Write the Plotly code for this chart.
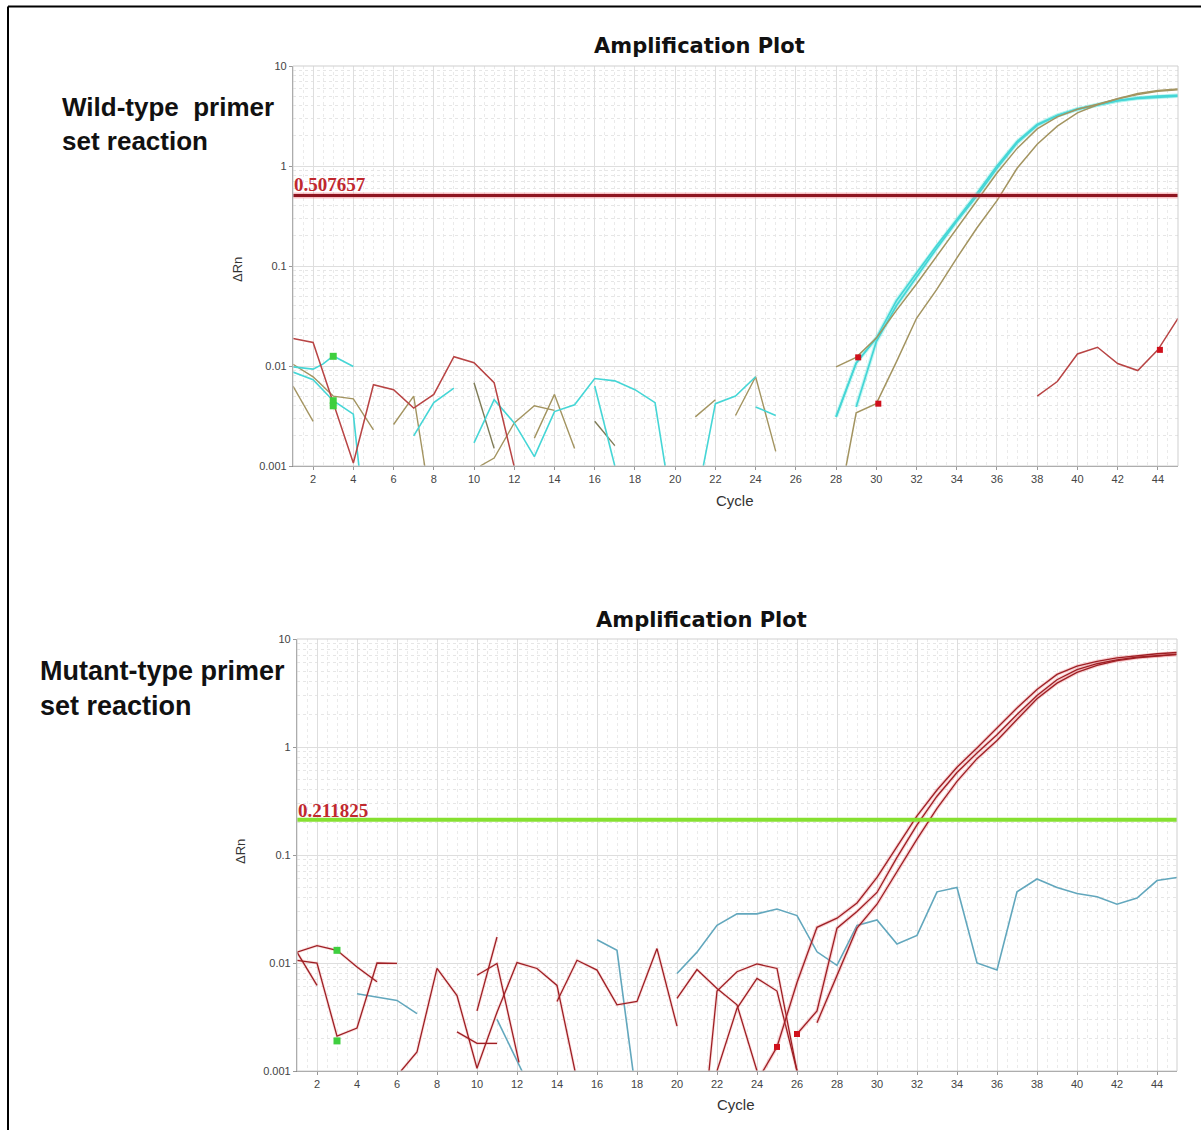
import plotly.graph_objects as go

W, H = 1201, 1130

# ---------------- data: top panel (wild-type primer set) ----------------
top_threshold = 0.507657
top_cyanA_cyc = [28, 29, 30, 31, 32, 33, 34, 35, 36, 37, 38, 39, 40, 41, 42, 43, 44, 45]
top_cyanA_val = [0.0031, 0.0107, 0.019, 0.045, 0.085, 0.16, 0.29, 0.53, 1.0, 1.75, 2.6, 3.2, 3.7, 4.1, 4.5, 4.8, 5.0, 5.1]
top_cyanB_cyc = [29, 30, 31, 32, 33, 34, 35, 36, 37, 38, 39, 40, 41, 42, 43, 44, 45]
top_cyanB_val = [0.0039, 0.0175, 0.040, 0.078, 0.15, 0.28, 0.50, 0.95, 1.7, 2.55, 3.2, 3.7, 4.1, 4.5, 4.75, 4.9, 5.0]
top_oliveA_cyc = [28, 29, 30, 31, 32, 33, 34, 35, 36, 37, 38, 39, 40, 41, 42, 43, 44, 45]
top_oliveA_val = [0.0098, 0.0122, 0.019, 0.036, 0.066, 0.125, 0.24, 0.45, 0.85, 1.5, 2.35, 3.1, 3.7, 4.15, 4.7, 5.2, 5.6, 5.8]
top_oliveB_cyc = [28.5, 29, 30, 31, 32, 33, 34, 35, 36, 37, 38, 39, 40, 41, 42, 43, 44, 45]
top_oliveB_val = [0.001, 0.0034, 0.0042, 0.011, 0.030, 0.058, 0.12, 0.24, 0.45, 0.95, 1.65, 2.5, 3.4, 4.1, 4.7, 5.3, 5.7, 5.9]

top_red1_cyc = [1, 2, 3, 4, 5, 6, 7, 8, 9, 10, 11, 12]
top_red1_val = [0.0188, 0.0172, 0.0043, 0.00107, 0.0065, 0.0058, 0.0038, 0.0052, 0.0124, 0.0108, 0.0068, 0.00098]
top_red2_cyc = [38, 39, 40, 41, 42, 43, 44, 45]
top_red2_val = [0.005, 0.007, 0.0132, 0.0154, 0.0106, 0.009, 0.0145, 0.030]

top_cyan1_cyc = [1, 2, 2.5, 3, 4]
top_cyan1_val = [0.0098, 0.0093, 0.0105, 0.0126, 0.0099]
top_cyan2_cyc = [1, 2, 3, 4, 4.3]
top_cyan2_val = [0.0087, 0.0073, 0.0045, 0.0033, 0.0009]
top_cyan3_cyc = [7, 8, 9]
top_cyan3_val = [0.0020, 0.0043, 0.0060]
top_cyan4_cyc = [10, 11, 12, 13, 14, 15, 16, 17, 18, 19, 19.5]
top_cyan4_val = [0.0017, 0.0046, 0.0027, 0.00124, 0.0035, 0.0041, 0.0075, 0.0071, 0.0058, 0.0043, 0.001]
top_cyan5_cyc = [16, 17]
top_cyan5_val = [0.0063, 0.001]
top_cyan6_cyc = [21.4, 22, 23, 24]
top_cyan6_val = [0.001, 0.0042, 0.0050, 0.0078]
top_cyan7_cyc = [24, 25]
top_cyan7_val = [0.0039, 0.0032]
top_cyan8_cyc = [28, 29, 30]
top_cyan8_val = [0.0031, 0.0107, 0.019]

top_olive1_cyc = [1, 2]
top_olive1_val = [0.0063, 0.0028]
top_olive2_cyc = [1, 2, 3, 4, 5]
top_olive2_val = [0.0104, 0.0078, 0.0050, 0.0047, 0.0023]
top_olive3_cyc = [6, 7, 7.55]
top_olive3_val = [0.0026, 0.0050, 0.001]
top_olive4_cyc = [10, 11]
top_olive4_val = [0.0068, 0.0015]
top_olive5_cyc = [10.3, 11, 12, 13, 14]
top_olive5_val = [0.001, 0.0012, 0.0027, 0.0040, 0.0036]
top_olive6_cyc = [13, 14, 15]
top_olive6_val = [0.0019, 0.0052, 0.0015]
top_olive7_cyc = [16, 17]
top_olive7_val = [0.0028, 0.0016]
top_olive8_cyc = [21, 22]
top_olive8_val = [0.0031, 0.0046]
top_olive9_cyc = [23, 24, 25]
top_olive9_val = [0.0032, 0.0078, 0.0014]

top_green_mark_cyc = [3, 3, 3]
top_green_mark_val = [0.0125, 0.0045, 0.0040]
top_red_mark_cyc = [29.1, 30.1, 44.1]
top_red_mark_val = [0.0122, 0.0042, 0.0145]

# ---------------- data: bottom panel (mutant-type primer set) ----------------
bot_threshold = 0.211825
bot_R1_cyc = [24, 25, 26, 27, 28, 29, 30, 31, 32, 33, 34, 35, 36, 37, 38, 39, 40, 41, 42, 43, 44, 45]
bot_R1_val = [0.0008, 0.00167, 0.0066, 0.0214, 0.026, 0.036, 0.062, 0.12, 0.23, 0.40, 0.65, 0.98, 1.5, 2.3, 3.4, 4.7, 5.6, 6.2, 6.7, 7.0, 7.3, 7.5]
bot_R2_cyc = [26, 27, 28, 29, 30, 31, 32, 33, 34, 35, 36, 37, 38, 39, 40, 41, 42, 43, 44, 45]
bot_R2_val = [0.0022, 0.0036, 0.021, 0.030, 0.045, 0.095, 0.19, 0.35, 0.58, 0.88, 1.3, 2.0, 3.0, 4.2, 5.2, 5.9, 6.4, 6.8, 7.0, 7.2]
bot_R3_cyc = [27, 28, 29, 30, 31, 32, 33, 34, 35, 36, 37, 38, 39, 40, 41, 42, 43, 44, 45]
bot_R3_val = [0.0028, 0.0076, 0.021, 0.035, 0.07, 0.14, 0.27, 0.48, 0.78, 1.15, 1.8, 2.8, 3.9, 4.9, 5.7, 6.3, 6.7, 7.0, 7.2]

bot_N1_cyc = [1, 2, 3, 4, 5]
bot_N1_val = [0.0126, 0.0145, 0.0131, 0.0092, 0.0067]
bot_N2_cyc = [1, 2, 3, 4, 5, 6]
bot_N2_val = [0.0106, 0.010, 0.0021, 0.0025, 0.010, 0.0099]
bot_N3_cyc = [1, 2]
bot_N3_val = [0.0126, 0.0062]
bot_N4_cyc = [6.2, 7, 8, 9, 10, 11, 12, 13, 14, 14.9]
bot_N4_val = [0.001, 0.0015, 0.0089, 0.0050, 0.00106, 0.0035, 0.0101, 0.0089, 0.0062, 0.001]
bot_N5_cyc = [10, 11]
bot_N5_val = [0.0036, 0.0174]
bot_N6_cyc = [10, 11, 12.1]
bot_N6_val = [0.0077, 0.0099, 0.0012]
bot_N7_cyc = [9, 10, 11]
bot_N7_val = [0.0023, 0.0018, 0.0018]
bot_N8_cyc = [14, 15, 16, 17, 18, 19, 20]
bot_N8_val = [0.0044, 0.0106, 0.0086, 0.0041, 0.0044, 0.0136, 0.0026]
bot_N9_cyc = [20, 21, 22, 23, 24]
bot_N9_val = [0.0047, 0.0087, 0.0058, 0.0041, 0.001]
bot_N10_cyc = [21.6, 22, 23, 24, 25, 26]
bot_N10_val = [0.001, 0.0055, 0.0083, 0.0098, 0.0089, 0.001]
bot_N11_cyc = [22, 23, 24, 25, 26]
bot_N11_val = [0.001, 0.0038, 0.0072, 0.0055, 0.001]

bot_B1_cyc = [4, 5, 6, 7]
bot_B1_val = [0.0052, 0.0048, 0.0045, 0.0034]
bot_B2_cyc = [11, 12.25]
bot_B2_val = [0.0030, 0.001]
bot_B3_cyc = [16, 17, 17.8]
bot_B3_val = [0.0164, 0.0131, 0.001]
bot_B4_cyc = [20, 21, 22, 23, 24, 25, 26, 27, 28, 29, 30, 31, 32, 33, 34, 35, 36, 37, 38, 39, 40, 41, 42, 43, 44, 45]
bot_B4_val = [0.0080, 0.0126, 0.0223, 0.0285, 0.0285, 0.0316, 0.0275, 0.0127, 0.0095, 0.0223, 0.025, 0.015, 0.018, 0.0456, 0.050, 0.010, 0.0086, 0.0456, 0.060, 0.050, 0.044, 0.041, 0.035, 0.040, 0.058, 0.062]

bot_green_mark_cyc = [3, 3]
bot_green_mark_val = [0.0131, 0.0019]
bot_red_mark_cyc = [25, 26]
bot_red_mark_val = [0.00167, 0.0022]

x_ticks = list(range(2, 46, 2))
y_ticks = [0.001, 0.01, 0.1, 1, 10]
y_tick_text = ["0.001", "0.01", "0.1", "1", "10"]

# ---------------- colours ----------------
C_RED = "#b84444"
C_CYAN = "#45d6d6"
C_OLIVE = "#a39460"
C_DOLIVE = "#7d7a55"
C_DRED = "#9e1f24"
C_BLUE = "#62a7bd"

fig = go.Figure()


def add_segments(segs, color, width, xa, ya, opacity=1.0):
    xs, ys = [], []
    for cx, cy in segs:
        xs += list(cx) + [None]
        ys += list(cy) + [None]
    fig.add_trace(go.Scatter(x=xs, y=ys, mode="lines", xaxis=xa, yaxis=ya,
                             line=dict(color=color, width=width), opacity=opacity,
                             connectgaps=False, hoverinfo="skip", showlegend=False))


# top panel
add_segments([(top_olive1_cyc, top_olive1_val), (top_olive2_cyc, top_olive2_val),
              (top_olive3_cyc, top_olive3_val), (top_olive5_cyc, top_olive5_val),
              (top_olive6_cyc, top_olive6_val), (top_olive8_cyc, top_olive8_val),
              (top_olive9_cyc, top_olive9_val)], C_OLIVE, 1.4, "x", "y")
add_segments([(top_olive4_cyc, top_olive4_val), (top_olive7_cyc, top_olive7_val)], C_DOLIVE, 1.4, "x", "y")
add_segments([(top_cyan1_cyc, top_cyan1_val), (top_cyan2_cyc, top_cyan2_val),
              (top_cyan3_cyc, top_cyan3_val), (top_cyan4_cyc, top_cyan4_val),
              (top_cyan5_cyc, top_cyan5_val), (top_cyan6_cyc, top_cyan6_val),
              (top_cyan7_cyc, top_cyan7_val), (top_cyan8_cyc, top_cyan8_val)], C_CYAN, 1.6, "x", "y")
add_segments([(top_red1_cyc, top_red1_val), (top_red2_cyc, top_red2_val)], C_RED, 1.5, "x", "y")
add_segments([(top_cyanA_cyc, top_cyanA_val), (top_cyanB_cyc, top_cyanB_val)], "rgba(80,230,220,0.3)", 4, "x", "y")
add_segments([(top_cyanA_cyc, top_cyanA_val), (top_cyanB_cyc, top_cyanB_val)], C_CYAN, 1.7, "x", "y")
add_segments([(top_oliveA_cyc, top_oliveA_val), (top_oliveB_cyc, top_oliveB_val)], C_OLIVE, 1.5, "x", "y")

# top threshold
fig.add_trace(go.Scatter(x=[1, 45], y=[top_threshold, top_threshold], mode="lines", xaxis="x", yaxis="y",
                         line=dict(color="rgba(240,120,130,0.45)", width=6), hoverinfo="skip", showlegend=False))
fig.add_trace(go.Scatter(x=[1, 45], y=[top_threshold, top_threshold], mode="lines", xaxis="x", yaxis="y",
                         line=dict(color="#8e1420", width=3), hoverinfo="skip", showlegend=False))

fig.add_trace(go.Scatter(x=top_green_mark_cyc, y=top_green_mark_val, mode="markers", xaxis="x", yaxis="y",
                         marker=dict(symbol="square", size=7, color="#3fcf3f", line=dict(width=0)),
                         hoverinfo="skip", showlegend=False))
fig.add_trace(go.Scatter(x=top_red_mark_cyc, y=top_red_mark_val, mode="markers", xaxis="x", yaxis="y",
                         marker=dict(symbol="square", size=6, color="#d0101c", line=dict(width=0)),
                         hoverinfo="skip", showlegend=False))

# bottom panel
add_segments([(bot_B1_cyc, bot_B1_val), (bot_B2_cyc, bot_B2_val), (bot_B3_cyc, bot_B3_val),
              (bot_B4_cyc, bot_B4_val)], C_BLUE, 1.6, "x2", "y2")
noise = [(bot_N1_cyc, bot_N1_val), (bot_N2_cyc, bot_N2_val), (bot_N3_cyc, bot_N3_val),
         (bot_N4_cyc, bot_N4_val), (bot_N5_cyc, bot_N5_val), (bot_N6_cyc, bot_N6_val),
         (bot_N7_cyc, bot_N7_val), (bot_N8_cyc, bot_N8_val), (bot_N9_cyc, bot_N9_val),
         (bot_N10_cyc, bot_N10_val), (bot_N11_cyc, bot_N11_val)]
add_segments(noise, "rgba(235,120,120,0.22)", 3, "x2", "y2")
add_segments(noise, C_DRED, 1.3, "x2", "y2")
amp = [(bot_R1_cyc, bot_R1_val), (bot_R2_cyc, bot_R2_val), (bot_R3_cyc, bot_R3_val)]
add_segments(amp, "rgba(235,110,115,0.3)", 3.5, "x2", "y2")
add_segments(amp, C_DRED, 1.3, "x2", "y2")

fig.add_trace(go.Scatter(x=[1, 45], y=[bot_threshold, bot_threshold], mode="lines", xaxis="x2", yaxis="y2",
                         line=dict(color="#86e030", width=4), hoverinfo="skip", showlegend=False))

fig.add_trace(go.Scatter(x=bot_green_mark_cyc, y=bot_green_mark_val, mode="markers", xaxis="x2", yaxis="y2",
                         marker=dict(symbol="square", size=7, color="#3fcf3f", line=dict(width=0)),
                         hoverinfo="skip", showlegend=False))
fig.add_trace(go.Scatter(x=bot_red_mark_cyc, y=bot_red_mark_val, mode="markers", xaxis="x2", yaxis="y2",
                         marker=dict(symbol="square", size=6, color="#d0101c", line=dict(width=0)),
                         hoverinfo="skip", showlegend=False))


def px(v):
    return v / W


def py(v):
    return 1 - v / H


tick_font = dict(family="Liberation Sans, Arial, sans-serif", size=11, color="#444")
xax = dict(range=[1, 45], tickvals=x_ticks, ticks="outside", ticklen=3, tickcolor="#999",
           showline=True, linecolor="#8a8a8a", linewidth=1.2,
           showgrid=True, gridcolor="#dedede", gridwidth=1,
           minor=dict(dtick=0.5, showgrid=True, gridcolor="#eaeaea", griddash="dot"),
           zeroline=False, tickfont=tick_font, automargin=False, fixedrange=True)
yax = dict(type="log", range=[-3, 1], tickvals=y_ticks, ticktext=y_tick_text, ticks="outside", ticklen=3,
           tickcolor="#999", showline=True, linecolor="#8a8a8a", linewidth=1.2,
           showgrid=True, gridcolor="#dedede", gridwidth=1,
           minor=dict(dtick="D1", showgrid=True, gridcolor="#e6e6e6", griddash="dot"),
           zeroline=False, tickfont=tick_font, automargin=False, fixedrange=True)

fig.update_layout(
    width=W, height=H, margin=dict(l=0, r=0, t=0, b=0),
    paper_bgcolor="white", plot_bgcolor="white", showlegend=False,
    xaxis=dict(xax, domain=[px(293), px(1178)], anchor="y"),
    yaxis=dict(yax, domain=[py(466), py(66)], anchor="x"),
    xaxis2=dict(xax, domain=[px(297), px(1177)], anchor="y2"),
    yaxis2=dict(yax, domain=[py(1071), py(639)], anchor="x2"),
)

shapes = [
    dict(type="rect", xref="paper", yref="paper", x0=px(293), x1=px(1178), y0=py(466), y1=py(66),
         line=dict(color="#cfcfcf", width=1)),
    dict(type="rect", xref="paper", yref="paper", x0=px(297), x1=px(1177), y0=py(1071), y1=py(639),
         line=dict(color="#cfcfcf", width=1)),
    dict(type="line", xref="paper", yref="paper", x0=px(8), x1=px(1201), y0=py(6.5), y1=py(6.5),
         line=dict(color="black", width=2)),
    dict(type="line", xref="paper", yref="paper", x0=px(8), x1=px(8), y0=py(6.5), y1=py(1130),
         line=dict(color="black", width=2)),
]
fig.update_layout(shapes=shapes)

title_font = dict(family="DejaVu Sans, Verdana, sans-serif", size=21, color="#111")
side_font = dict(family="Liberation Sans, Arial, sans-serif", size=26, color="#111")
side_font2 = dict(family="Liberation Sans, Arial, sans-serif", size=27, color="#111")
small_font = dict(family="Liberation Sans, Arial, sans-serif", size=13, color="#333")
cycle_font = dict(family="Liberation Sans, Arial, sans-serif", size=15, color="#333")
thr_font = dict(family="Liberation Serif, Times New Roman, serif", size=19, color="#c0282e")

ann = []


def add_text(text, x, y, font, xanchor="center", yanchor="middle", textangle=0):
    ann.append(dict(text=text, x=px(x), y=py(y), xref="paper", yref="paper", showarrow=False,
                    font=font, xanchor=xanchor, yanchor=yanchor, textangle=textangle, align="left"))


add_text("<b>Amplification Plot</b>", 700, 46, title_font)
add_text("<b>Amplification Plot</b>", 701, 620, title_font)
add_text("<b>Wild-type  primer<br>set reaction</b>", 60, 124, side_font, xanchor="left")
add_text("<b>Mutant-type primer<br>set reaction</b>", 38, 688, side_font2, xanchor="left")
add_text("ΔRn", 237, 270, small_font, textangle=-90)
add_text("ΔRn", 240, 852, small_font, textangle=-90)
add_text("Cycle", 735, 500, cycle_font)
add_text("Cycle", 736, 1104, cycle_font)
add_text("<b>0.507657</b>", 292, 197, thr_font, xanchor="left", yanchor="bottom")
add_text("<b>0.211825</b>", 296, 823, thr_font, xanchor="left", yanchor="bottom")
fig.update_layout(annotations=ann)

fig.write_html("out.html")
